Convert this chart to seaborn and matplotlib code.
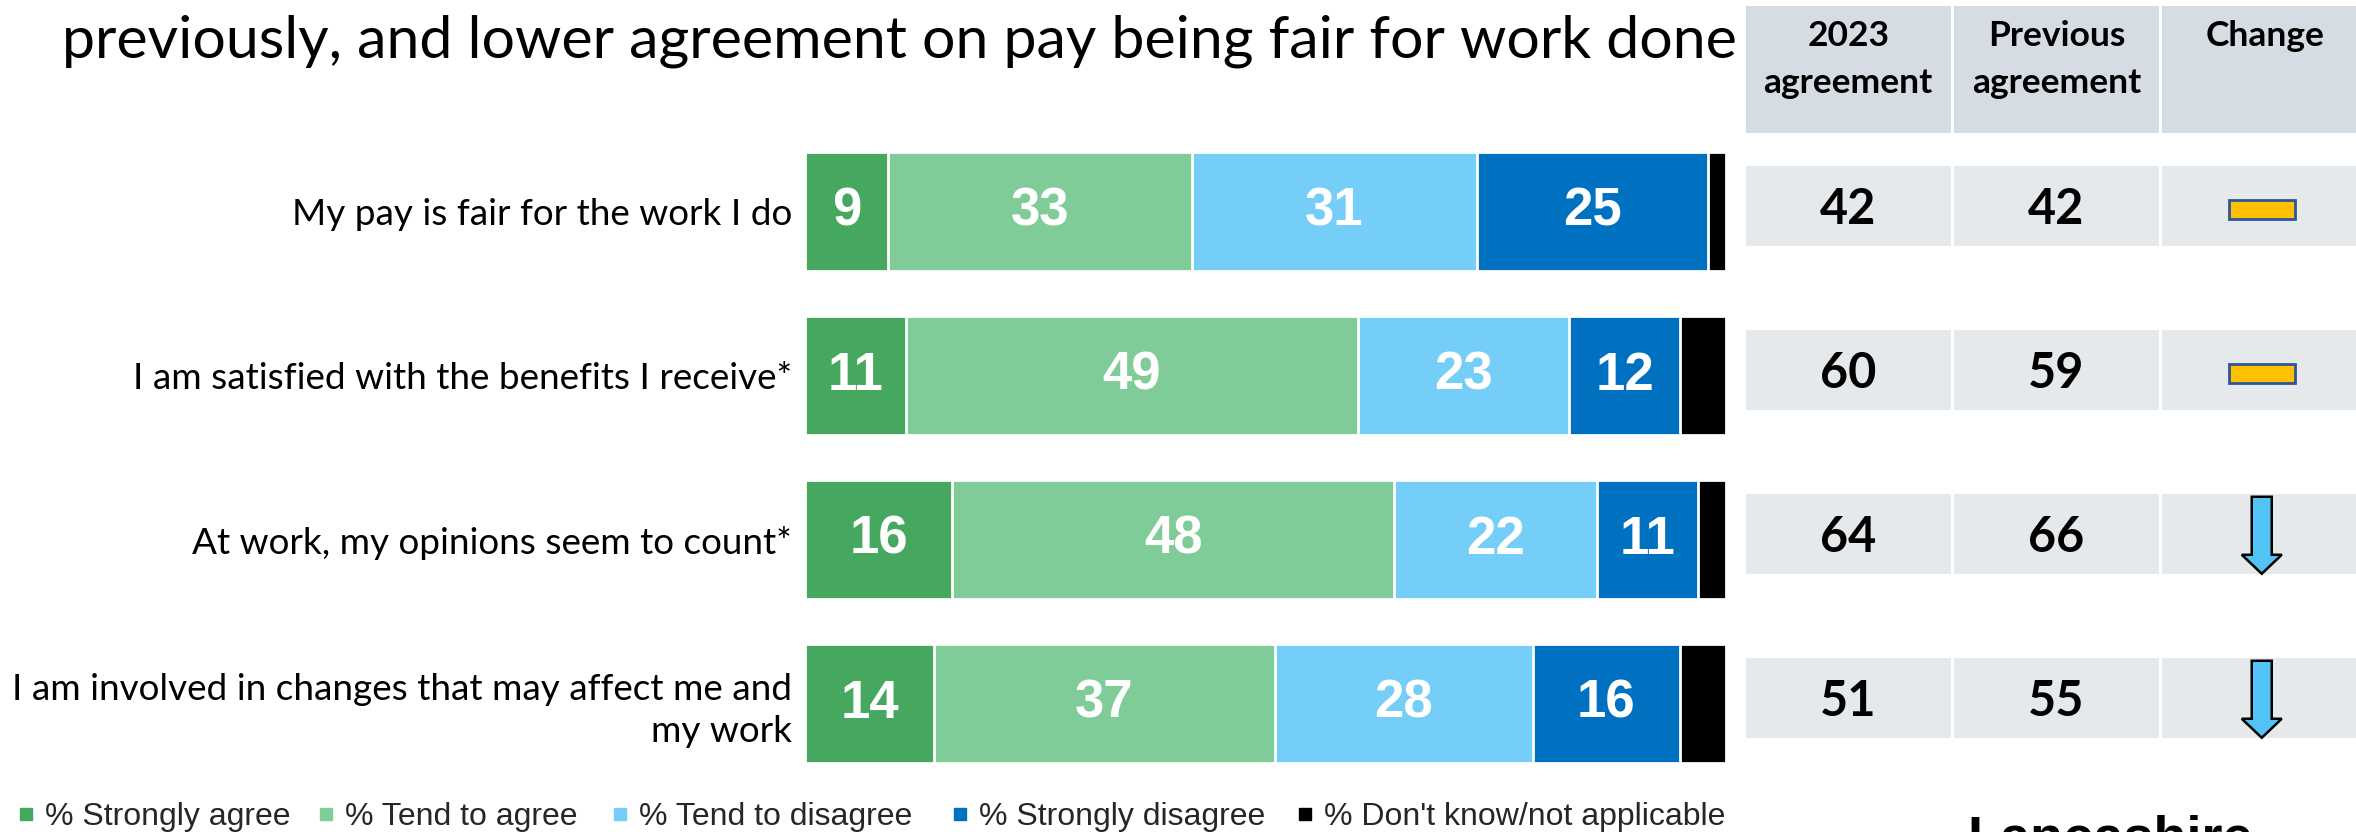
import matplotlib
matplotlib.use("Agg")
import matplotlib.pyplot as plt
from matplotlib.lines import Line2D
from matplotlib.patches import Rectangle, Polygon
import numpy as np
import pandas as pd
import seaborn as sns

# ---- data ----
statements = [
    "My pay is fair for the work I do",
    "I am satisfied with the benefits I receive*",
    "At work, my opinions seem to count*",
    "I am involved in changes that may affect me and\nmy work",
]
series_names = [
    "% Strongly agree",
    "% Tend to agree",
    "% Tend to disagree",
    "% Strongly disagree",
    "% Don't know/not applicable",
]
strongly_agree = [9, 11, 16, 14]
tend_agree = [33, 49, 48, 37]
tend_disagree = [31, 23, 22, 28]
strongly_disagree = [25, 12, 11, 16]
dont_know = [2, 5, 3, 5]

agree_2023 = [42, 60, 64, 51]
agree_previous = [42, 59, 66, 55]
change = ["same", "same", "down", "down"]

title_line = "previously, and lower agreement on pay being fair for work done"
table_headers = [["2023", "agreement"], ["Previous", "agreement"], ["Change"]]

colors = ["#45A85E", "#80CC98", "#75CEF7", "#0070C0", "#000000"]
header_bg = "#D6DCE4"
cell_bg = "#E5E9EC"

# ---- figure ----
W, H = 2356, 832
sns.set_theme(style="white")
plt.rcParams["font.family"] = ["Lato", "DejaVu Sans"]
fig = plt.figure(figsize=(W / 100, H / 100), dpi=100)
fig.patch.set_facecolor("white")

pitch = 164.0       # px per category row
row0 = 211.5        # px from top to first row centre
ax = fig.add_axes([805 / W, (H - (row0 + 3.5 * pitch)) / H, 921 / W, 4 * pitch / H])

series = [strongly_agree, tend_agree, tend_disagree, strongly_disagree, dont_know]
values = np.array(series, dtype=float)
cum = np.cumsum(values, axis=0)

# stacked bars: draw cumulative totals from the outermost segment inwards
for k in range(len(series) - 1, -1, -1):
    df = pd.DataFrame({"statement": statements, "total": cum[k]})
    sns.barplot(data=df, x="total", y="statement", order=statements,
                color=colors[k], saturation=1, width=0.72,
                edgecolor="white", linewidth=2.0, errorbar=None, ax=ax)

for k in range(4):
    for i in range(len(statements)):
        v = values[k, i]
        ax.text(cum[k, i] - v / 2, i, f"{int(v)}", ha="center", va="center",
                color="white", fontsize=38, fontweight="bold",
                family=["Liberation Sans", "DejaVu Sans"])

ax.set_xlim(0, 100)
ax.set_ylim(3.5, -0.5)
ax.set_xlabel("")
ax.set_ylabel("")
ax.set_xticks([])
ax.tick_params(axis="y", length=0, pad=9.4)
ax.set_yticks(range(len(statements)))
ax.set_yticklabels(statements, fontsize=26.6, color="black", linespacing=1.3)
for s in ax.spines.values():
    s.set_visible(False)

# ---- side table ----
col_px = 208.3
tab = fig.add_axes([1744 / W, 0, 3 * col_px / W, 1])
ktop = -row0 / pitch
kbot = (H - row0) / pitch
tab.set_ylim(kbot, ktop)
tab.set_xlim(0, 3)
tab.axis("off")

hdr_top = (6 - row0) / pitch
hdr_bot = (133 - row0) / pitch
line_y = [(36 - row0) / pitch, (83 - row0) / pitch]
inset = 0.008
for c, lines in enumerate(table_headers):
    tab.add_patch(Rectangle((c + inset, hdr_top), 1 - 2 * inset, hdr_bot - hdr_top,
                            facecolor=header_bg, edgecolor="none"))
    for j, line in enumerate(lines):
        tab.text(c + 0.5, line_y[j], line, ha="center", va="center",
                 fontsize=25.5, fontweight="bold", color="black")

cell_h = 80 / pitch
shift = -0.035
for i in range(len(statements)):
    yc = i + shift
    for c in range(3):
        tab.add_patch(Rectangle((c + inset, yc - cell_h / 2), 1 - 2 * inset, cell_h,
                                facecolor=cell_bg, edgecolor="none"))
    tab.text(0.5, yc + 18 / pitch, f"{agree_2023[i]}", ha="center", va="baseline",
             fontsize=35, fontweight="bold", color="black")
    tab.text(1.5, yc + 18 / pitch, f"{agree_previous[i]}", ha="center", va="baseline",
             fontsize=35, fontweight="bold", color="black")
    cx = 2.5 - 3 / col_px
    if change[i] == "same":
        rw, rh = 66 / col_px, 19 / pitch
        tab.add_patch(Rectangle((cx - rw / 2, yc + 0.02 - rh / 2), rw, rh,
                                facecolor="#FFC000", edgecolor="#2F5597", linewidth=2))
    elif change[i] == "down":
        sw, hw = 10 / col_px, 20 / col_px
        top, tip = yc - 37 / pitch, yc + 40 / pitch
        neck = tip - 19 / pitch
        pts = [(cx - sw, top), (cx + sw, top), (cx + sw, neck), (cx + hw, neck),
               (cx, tip), (cx - hw, neck), (cx - sw, neck)]
        tab.add_patch(Polygon(pts, closed=True, facecolor="#52C3F5",
                              edgecolor="black", linewidth=1.8))

# ---- title ----
fig.text(62 / W, (H - 57) / H, title_line, ha="left", va="baseline",
         fontsize=42.5, color="black")

# ---- legend: one entry per series, spaced as on the slide ----
legend_x = [16, 316, 610, 950, 1295]
for name, col, lx in zip(series_names, colors, legend_x):
    h = Line2D([0], [0], marker="s", linestyle="none", markersize=8,
               markerfacecolor=col, markeredgecolor=col)
    fig.legend([h], [name], loc="center left",
               bbox_to_anchor=(lx / W, (H - 817) / H), frameon=False,
               prop={"family": ["Liberation Sans", "DejaVu Sans"], "size": 23},
               handlelength=0.6, handletextpad=0.3,
               borderaxespad=0, borderpad=0)

# ---- organisation name ----
fig.text(1967 / W, (H - 814) / H, "Lancashire", ha="left", va="top",
         fontsize=39, fontweight="bold", color="black",
         family=["Liberation Sans", "DejaVu Sans"])

fig.savefig("out.png", dpi=100, facecolor="white")
